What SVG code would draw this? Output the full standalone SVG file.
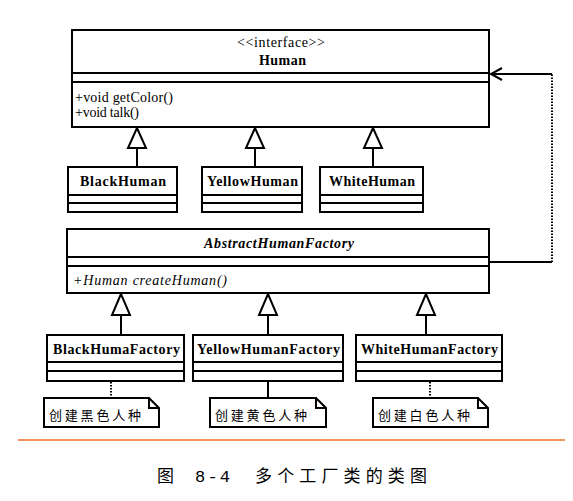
<svg xmlns="http://www.w3.org/2000/svg" width="573" height="501" viewBox="0 0 573 501">
<defs>
<style>
.box{fill:#fff;stroke:#000;stroke-width:2}
.ln{stroke:#000;stroke-width:2;fill:none}
.cn{stroke:#000;stroke-width:2;fill:none}
.tri{fill:#fff;stroke:#000;stroke-width:2}
.dot{stroke:#000;stroke-width:2;fill:none;stroke-dasharray:1.5,1.5}
.t{font-family:"Liberation Serif","Times New Roman",serif;font-size:14px;fill:#000}
.b{font-weight:bold}
.i{font-style:italic}
.cjk{font-family:"Liberation Serif","Noto Sans CJK SC",sans-serif;font-size:13px;fill:#000}
.cap{font-family:"Liberation Mono","Noto Sans CJK SC",monospace;font-size:17px;fill:#000}
</style>
</defs>
<rect width="573" height="501" fill="#fff"/>
<g id="connectors">
<path class="cn" d="M137,148 V167 M255,148 V167 M373,148 V167"/>
<polygon class="tri" points="137,128 128,148 146,148"/>
<polygon class="tri" points="255,128 246,148 264,148"/>
<polygon class="tri" points="373,128 364,148 382,148"/>
<path class="cn" d="M121,315 V335 M268,315 V335 M426,315 V335"/>
<polygon class="tri" points="121,294 112,315 130,315"/>
<polygon class="tri" points="268,294 259,315 277,315"/>
<polygon class="tri" points="426,294 417,315 435,315"/>
<path class="cn" d="M490,262 H552"/>
<path class="dot" d="M552,262 V74"/>
<path class="cn" d="M552,74 H491"/>
<path class="cn" d="M502,68 L491,74 L502,80"/>
<path class="dot" d="M111,382 V398"/>
<path class="cn" d="M268,382 V398"/>
<path class="dot" d="M430,382 V398"/>
</g>
<g id="human">
<rect class="box" x="72" y="30" width="417" height="97"/>
<path class="ln" d="M72,73 H489 M72,82 H489"/>
<text class="t" x="237" y="47" font-size="13" textLength="88" lengthAdjust="spacing">&lt;&lt;interface&gt;&gt;</text>
<text class="t b" x="259" y="65" textLength="47" lengthAdjust="spacing">Human</text>
<text class="t" x="75" y="102" textLength="98" lengthAdjust="spacing">+void getColor()</text>
<text class="t" x="75" y="117" textLength="64" lengthAdjust="spacing">+void talk()</text>
</g>
<g id="blackHuman">
<rect class="box" x="68" y="167" width="109" height="45"/>
<path class="ln" d="M68,195 H177 M68,203 H177"/>
<text class="t b" x="80" y="186" textLength="86" lengthAdjust="spacing">BlackHuman</text>
</g>
<g id="yellowHuman">
<rect class="box" x="202" y="167" width="100" height="45"/>
<path class="ln" d="M202,195 H302 M202,203 H302"/>
<text class="t b" x="207" y="186" textLength="91" lengthAdjust="spacing">YellowHuman</text>
</g>
<g id="whiteHuman">
<rect class="box" x="320" y="167" width="103" height="45"/>
<path class="ln" d="M320,195 H423 M320,203 H423"/>
<text class="t b" x="329" y="186" textLength="86" lengthAdjust="spacing">WhiteHuman</text>
</g>
<g id="abstractFactory">
<rect class="box" x="67" y="229" width="422" height="64"/>
<path class="ln" d="M67,257 H489 M67,266 H489"/>
<text class="t b i" x="204" y="248" textLength="150" lengthAdjust="spacing">AbstractHumanFactory</text>
<text class="t i" x="73" y="285" textLength="154" lengthAdjust="spacing">+Human createHuman()</text>
</g>
<g id="blackFactory">
<rect class="box" x="47" y="335" width="137" height="46"/>
<path class="ln" d="M47,362 H184 M47,371 H184"/>
<text class="t b" x="53" y="354" textLength="127" lengthAdjust="spacing">BlackHumaFactory</text>
</g>
<g id="yellowFactory">
<rect class="box" x="193" y="335" width="150" height="46"/>
<path class="ln" d="M193,362 H343 M193,371 H343"/>
<text class="t b" x="197" y="354" textLength="143" lengthAdjust="spacing">YellowHumanFactory</text>
</g>
<g id="whiteFactory">
<rect class="box" x="356" y="335" width="146" height="46"/>
<path class="ln" d="M356,362 H502 M356,371 H502"/>
<text class="t b" x="361" y="354" textLength="137" lengthAdjust="spacing">WhiteHumanFactory</text>
</g>
<g id="note1">
<path class="box" d="M44,398 H149 L159,408 V427 H44 Z"/>
<path class="ln" d="M149,398 V408 H159" stroke-width="1.5"/>
<text class="cjk" x="49" y="420" textLength="92" lengthAdjust="spacing">创建黑色人种</text>
</g>
<g id="note2">
<path class="box" d="M210,398 H316 L326,408 V427 H210 Z"/>
<path class="ln" d="M316,398 V408 H326" stroke-width="1.5"/>
<text class="cjk" x="215" y="420" textLength="92" lengthAdjust="spacing">创建黄色人种</text>
</g>
<g id="note3">
<path class="box" d="M373,398 H478 L488,408 V427 H373 Z"/>
<path class="ln" d="M478,398 V408 H488" stroke-width="1.5"/>
<text class="cjk" x="378" y="420" textLength="92" lengthAdjust="spacing">创建白色人种</text>
</g>
<line x1="18" y1="440" x2="565" y2="440" stroke="#f07020" stroke-width="1.5"/>
<text class="cap" x="157" y="482">图</text>
<text class="cap" x="195" y="482" textLength="35" lengthAdjust="spacing">8-4</text>
<text class="cap" x="255" y="482" textLength="172" lengthAdjust="spacing">多个工厂类的类图</text>
</svg>
